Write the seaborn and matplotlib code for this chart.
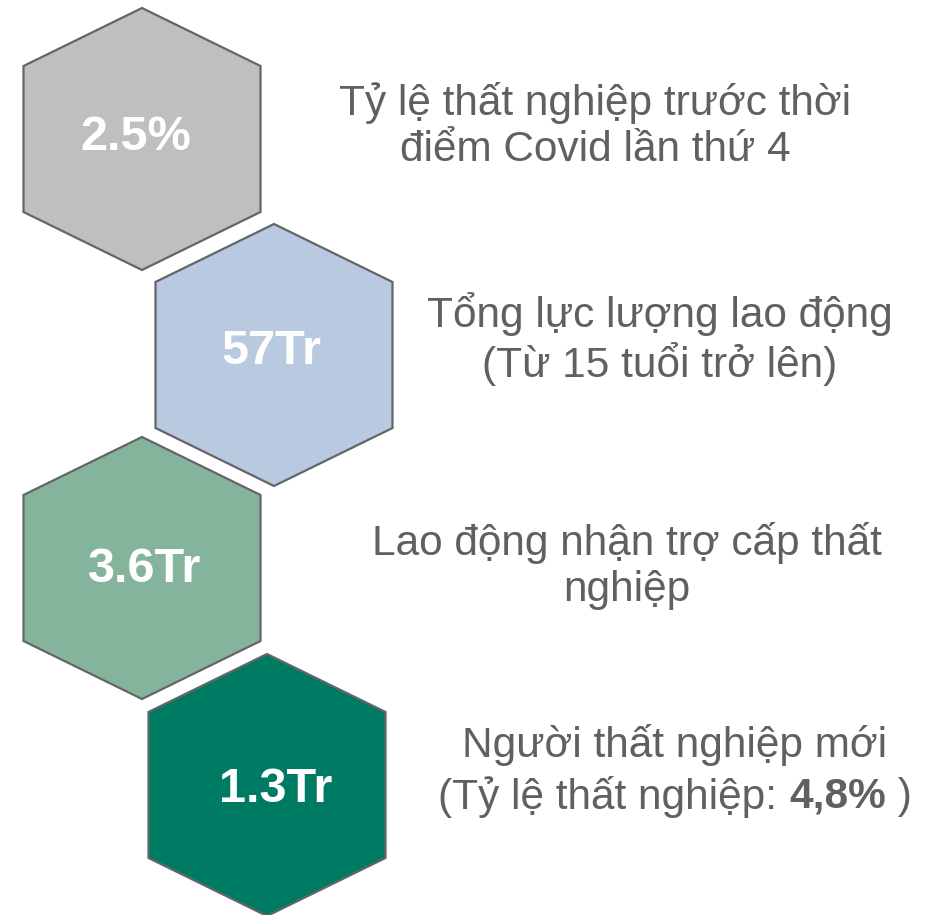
import matplotlib
matplotlib.use("Agg")
import matplotlib.pyplot as plt
from matplotlib.patches import Polygon
import seaborn as sns

# data
values = ["2.5%", "57Tr", "3.6Tr", "1.3Tr"]
labels = [
    "Tỷ lệ thất nghiệp trước thời\nđiểm Covid lần thứ 4",
    "Tổng lực lượng lao động\n(Từ 15 tuổi trở lên)",
    "Lao động nhận trợ cấp thất\nnghiệp",
    "Người thất nghiệp mới",
]
last_line = ["(Tỷ lệ thất nghiệp: ", "4,8%", " )"]
colors = ["#BFBFBF", "#B9C9DF", "#84B59C", "#007B63"]

# layout (pixel coords of the 933x915 canvas)
hex_cx = [142, 274, 142, 267]
hex_top = [8, 224, 437, 654]
half_w = 118.5
shoulder = 58
side = 146
val_xy = [(136, 137), (272, 352), (145, 570), (276, 790)]
lab_xy = [(595, 126), (660, 339), (627, 566), (675, 745)]

sns.set_theme(style="white")
plt.rcParams["font.family"] = ["Liberation Sans", "DejaVu Sans"]

fig = plt.figure(figsize=(9.33, 9.15), dpi=100)
ax = fig.add_axes([0, 0, 1, 1])
ax.set_xlim(0, 933)
ax.set_ylim(915, 0)
ax.axis("off")

for cx, top, col, val, (vx, vy) in zip(hex_cx, hex_top, colors, values, val_xy):
    pts = [
        (cx, top),
        (cx + half_w, top + shoulder),
        (cx + half_w, top + shoulder + side),
        (cx, top + 2 * shoulder + side),
        (cx - half_w, top + shoulder + side),
        (cx - half_w, top + shoulder),
    ]
    ax.add_patch(Polygon(pts, closed=True, facecolor=col, edgecolor="#646569", linewidth=1.6))
    ax.text(vx, vy, val, ha="center", va="center", color="white",
            fontsize=35, fontweight="bold")

txt_color = "#5f6064"
fs = 30.5
for (lx, ly), lab in zip(lab_xy[:3], labels[:3]):
    ax.text(lx, ly, lab, ha="center", va="center", color=txt_color,
            fontsize=fs, linespacing=1.2)

lx, ly = lab_xy[3]
ax.text(lx, ly, labels[3], ha="center", va="center", color=txt_color, fontsize=fs)

# mixed-weight last line
fig.canvas.draw()
r = fig.canvas.get_renderer()
parts = []
for s, w in zip(last_line, ["normal", "bold", "normal"]):
    t = ax.text(0, ly + 52, s, ha="left", va="center", color=txt_color,
                fontsize=fs, fontweight=w)
    parts.append(t)
widths = [t.get_window_extent(renderer=r).width for t in parts]
x = lx - sum(widths) / 2
for t, w in zip(parts, widths):
    t.set_x(x)
    x += w

fig.savefig("out.png", dpi=100, facecolor="white")
